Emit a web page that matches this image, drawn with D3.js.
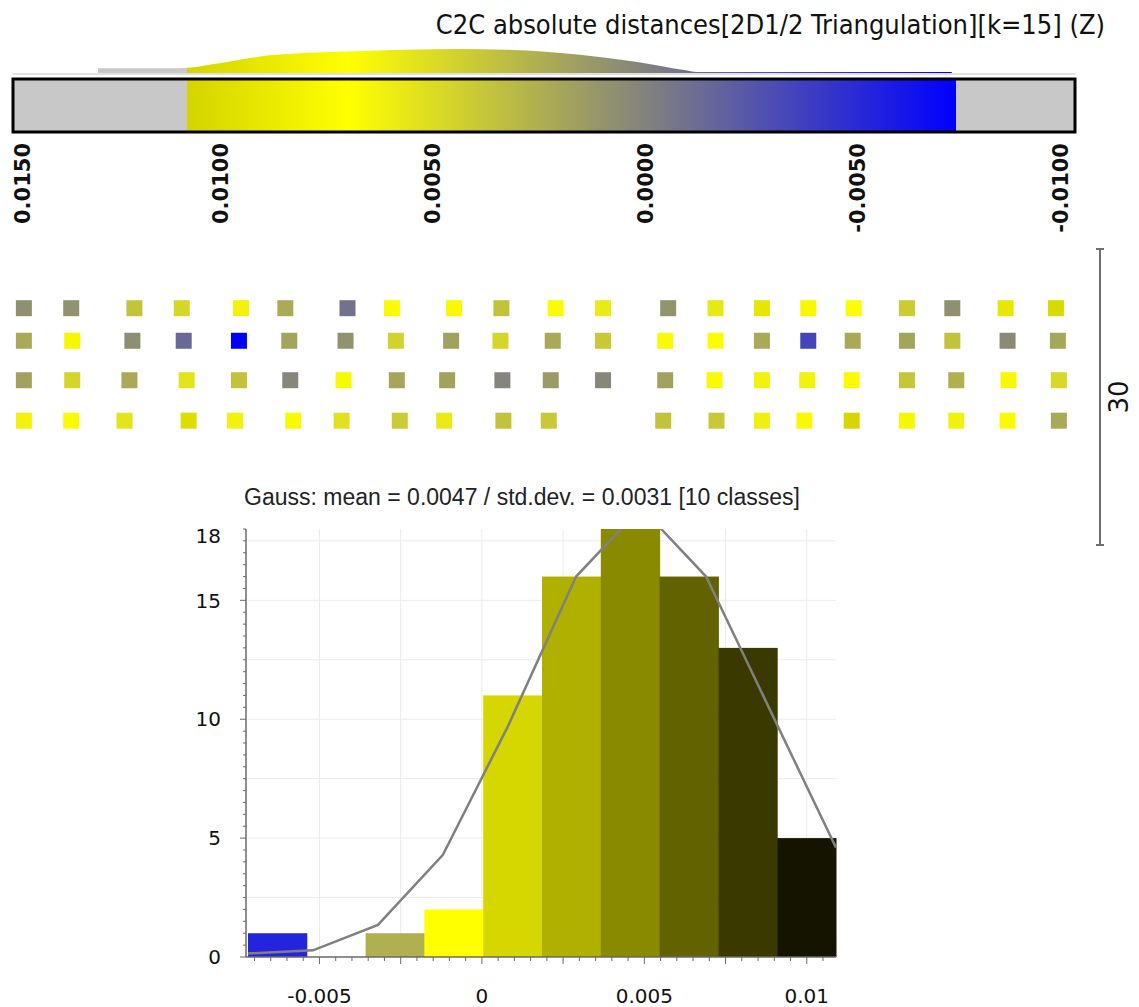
<!DOCTYPE html>
<html>
<head>
<meta charset="utf-8">
<script src="https://cdn.jsdelivr.net/npm/d3@7"></script>
<style>
  body { margin: 0; background: #fff; }
  svg { display: block; }
</style>
</head>
<body>
<script>
// ---- scalar field (C2C distances) ----
var titleText = "C2C absolute distances[2D1/2 Triangulation][k=15] (Z)";
var vMin = -0.0072, vMax = 0.0109;
var colorStopValues = [-0.0072, 0.0, 0.0071, 0.0109];
var colorStopColors = ["#0000ff", "#808080", "#ffff00", "#d4d400"];
var outOfRangeGray = "#c8c8c8";
var barTicks = [0.015, 0.01, 0.005, 0, -0.005, -0.01];
var barTickLabels = ["0.0150", "0.0100", "0.0050", "0.0000", "-0.0050", "-0.0100"];

// density profile shown above the colour bar (distance, relative height)
var densityValues  = [0.0130, 0.0111, 0.0100, 0.0089, 0.0071, 0.0045, 0.0034, 0.0016, 0.0003, -0.0008, -0.0011, -0.0071];
var densityHeights = [0.20,   0.20,   0.45,   0.75,   0.90,   1.00,   0.97,   0.75,   0.46,   0.12,    0.04,    0.04];

// ---- point cloud, seen from above (model units) ----
var rowY = [24.0, 20.7, 16.7, 12.6];
var rowX = [
  [1.0, 5.8, 12.2, 17.0, 23.0, 27.5, 33.8, 38.3, 44.6, 49.4, 54.9, 59.7, 66.3, 71.1, 75.8, 80.5, 85.1, 90.5, 95.1, 100.5, 105.6],
  [1.0, 5.9, 12.0, 17.2, 22.8, 27.9, 33.6, 38.7, 44.3, 49.3, 54.6, 59.7, 66.0, 71.1, 75.8, 80.5, 85.0, 90.5, 95.1, 100.7, 105.8],
  [1.0, 5.9, 11.7, 17.5, 22.8, 28.0, 33.4, 38.8, 43.9, 49.5, 54.4, 59.7, 66.0, 71.0, 75.8, 80.4, 84.9, 90.5, 95.5, 100.8, 105.9],
  [1.0, 5.8, 11.2, 17.7, 22.4, 28.3, 33.2, 39.1, 43.6, 49.6, 54.2, 65.8, 71.2, 75.8, 80.1, 84.9, 90.5, 95.5, 100.7, 105.9]
];
var rowDist = [
  [0.0009, 0.0010, 0.0038, 0.0048, 0.0064, 0.0024, -0.0008, 0.0075, 0.0076, 0.0037, 0.0074, 0.0059, 0.0011, 0.0058, 0.0093, 0.0077, 0.0073, 0.0042, 0.0009, 0.0092, 0.0104],
  [0.0023, 0.0078, 0.0008, -0.0013, -0.0072, 0.0020, 0.0010, 0.0046, 0.0019, 0.0048, 0.0023, 0.0041, 0.0068, 0.0070, 0.0023, -0.0033, 0.0023, 0.0020, 0.0037, 0.0006, 0.0022],
  [0.0019, 0.0047, 0.0023, 0.0056, 0.0037, 0.0004, 0.0076, 0.0021, 0.0019, 0.0003, 0.0015, 0.0004, 0.0019, 0.0068, 0.0064, 0.0064, 0.0075, 0.0039, 0.0027, 0.0077, 0.0049],
  [0.0064, 0.0068, 0.0056, 0.0101, 0.0064, 0.0076, 0.0054, 0.0042, 0.0059, 0.0037, 0.0040, 0.0037, 0.0040, 0.0062, 0.0076, 0.0106, 0.0078, 0.0063, 0.0075, 0.0023]
];
var scaleBarLength = 30;

// ---- histogram ----
var histTitle = "Gauss: mean = 0.0047 / std.dev. = 0.0031 [10 classes]";
var nClasses = 10;
var classColors = ["#2424dc", "#5a5ab0", "#b0b050", "#ffff00", "#d6d600", "#b0b000", "#8a8a00", "#626200", "#3a3a00", "#141400"];
var gaussValues = [-0.0072, -0.0052, -0.0032, -0.0012, 0.0008, 0.0029, 0.0049, 0.0069, 0.0109];
var gaussCounts = [0.15, 0.28, 1.35, 4.3, 9.7, 16.0, 18.9, 16.0, 4.6];
var histXTicks = [-0.005, 0, 0.005, 0.01];
var histXTickLabels = ["-0.005", "0", "0.005", "0.01"];
var histYTicks = [0, 5, 10, 15, 18];

var W = 1139, H = 1007;
var svg = d3.select("body").append("svg")
    .attr("width", W)
    .attr("height", H);
var defs = svg.append("defs");

var color = d3.scaleLinear()
    .domain(colorStopValues)
    .range(colorStopColors)
    .clamp(true);

// title (condensed face)
svg.append("text")
    .attr("x", 1105)
    .attr("y", 34)
    .attr("text-anchor", "end")
    .style("font-family", "'DejaVu Sans Condensed', 'DejaVu Sans', sans-serif")
    .style("font-stretch", "condensed")
    .style("font-size", "27px")
    .style("fill", "#111")
    .text(titleText);

// ---------- colour scale bar ----------
var barX = d3.scaleLinear().domain([0.015, -0.01]).range([13, 1075]);
function off(v) { return (barX(v) - 13) / (1075 - 13); }

var grad = defs.append("linearGradient")
    .attr("id", "scaleGrad")
    .attr("gradientUnits", "userSpaceOnUse")
    .attr("x1", 13).attr("x2", 1075)
    .attr("y1", 0).attr("y2", 0);
grad.append("stop").attr("offset", 0).attr("stop-color", outOfRangeGray);
grad.append("stop").attr("offset", off(vMax)).attr("stop-color", outOfRangeGray);
colorStopValues.slice().reverse().forEach(function (v) {
    grad.append("stop").attr("offset", off(v)).attr("stop-color", color(v));
});
grad.append("stop").attr("offset", off(vMin)).attr("stop-color", outOfRangeGray);
grad.append("stop").attr("offset", 1).attr("stop-color", outOfRangeGray);

// density profile
var yDens = d3.scaleLinear().domain([0, 1]).range([73, 49]);
var densArea = d3.area()
    .x(function (d) { return barX(d[0]); })
    .y0(73)
    .y1(function (d) { return yDens(d[1]); })
    .curve(d3.curveMonotoneX);
svg.append("path")
    .datum(d3.zip(densityValues, densityHeights))
    .attr("d", densArea)
    .attr("fill", "url(#scaleGrad)");
svg.append("line")
    .attr("x1", 13).attr("x2", 1075)
    .attr("y1", 74).attr("y2", 74)
    .attr("stroke", "#d6d6d6")
    .attr("stroke-width", 1.5);

svg.append("rect")
    .attr("x", 13).attr("y", 79)
    .attr("width", 1062).attr("height", 53)
    .attr("fill", "url(#scaleGrad)")
    .attr("stroke", "#000")
    .attr("stroke-width", 3);

// rotated tick labels (kept inside the bar ends)
svg.selectAll(".barTick")
    .data(barTicks)
    .enter().append("text")
    .attr("class", "barTick")
    .attr("transform", function (d) {
        var x = Math.max(22, Math.min(1060, barX(d) - 5));
        return "translate(" + x + ",143) rotate(-90)";
    })
    .attr("dy", "0.36em")
    .attr("text-anchor", "end")
    .style("font-family", "'DejaVu Sans', sans-serif")
    .style("font-size", "21px")
    .style("font-weight", "bold")
    .style("fill", "#111")
    .text(function (d, i) { return barTickLabels[i]; });

// ---------- point cloud ----------
var ptX = d3.scaleLinear().domain([0, 30]).range([14, 310]);
var ptY = d3.scaleLinear().domain([0, 30]).range([545, 249]);
var points = [];
rowX.forEach(function (xs, r) {
    xs.forEach(function (x, i) {
        points.push({ x: x, y: rowY[r], v: rowDist[r][i] });
    });
});
var sq = 16;
svg.append("g").selectAll("rect")
    .data(points)
    .enter().append("rect")
    .attr("x", function (d) { return ptX(d.x) - sq / 2; })
    .attr("y", function (d) { return ptY(d.y) - sq / 2; })
    .attr("width", sq)
    .attr("height", sq)
    .attr("fill", function (d) { return color(d.v); });

// scale bar
var sb = svg.append("g").attr("stroke", "#6e6e6e").attr("stroke-width", 2);
sb.append("line")
    .attr("x1", 1100).attr("x2", 1100)
    .attr("y1", ptY(0)).attr("y2", ptY(scaleBarLength));
[0, scaleBarLength].forEach(function (v) {
    sb.append("line")
        .attr("x1", 1096).attr("x2", 1104)
        .attr("y1", ptY(v)).attr("y2", ptY(v));
});
svg.append("text")
    .attr("transform", "translate(1119," + ptY(scaleBarLength / 2) + ") rotate(-90)")
    .attr("dy", "0.36em")
    .attr("text-anchor", "middle")
    .style("font-family", "'DejaVu Sans', sans-serif")
    .style("font-size", "26px")
    .style("fill", "#111")
    .text(String(scaleBarLength));

// ---------- histogram ----------
var xH = d3.scaleLinear().domain([vMin, vMax]).range([248, 836]);
var yH = d3.scaleLinear().domain([0, 18]).range([957, 529]);
var step = (vMax - vMin) / nClasses;
var bins = d3.bin()
    .domain([vMin, vMax])
    .thresholds(d3.range(1, nClasses).map(function (i) { return vMin + i * step; }))(points.map(function (p) { return p.v; }));

svg.append("text")
    .attr("x", 522)
    .attr("y", 505)
    .attr("text-anchor", "middle")
    .style("font-family", "'Liberation Sans', Arial, sans-serif")
    .style("font-size", "23px")
    .style("fill", "#222")
    .text(histTitle);

var grid = svg.append("g").attr("stroke", "#ebebeb").attr("stroke-width", 1);
d3.range(-2, 5).map(function (i) { return i * 0.0025; }).forEach(function (v) {
    grid.append("line")
        .attr("x1", xH(v)).attr("x2", xH(v))
        .attr("y1", yH(18)).attr("y2", yH(0));
});
d3.range(1, 8).map(function (i) { return i * 2.5; }).forEach(function (c) {
    grid.append("line")
        .attr("x1", xH(vMin)).attr("x2", xH(vMax))
        .attr("y1", yH(c)).attr("y2", yH(c));
});

svg.append("g").selectAll("rect")
    .data(bins)
    .enter().append("rect")
    .attr("x", function (d) { return xH(d.x0); })
    .attr("width", function (d) { return xH(d.x1) - xH(d.x0) + 0.5; })
    .attr("y", function (d) { return yH(d.length); })
    .attr("height", function (d) { return yH(0) - yH(d.length); })
    .attr("fill", function (d, i) { return classColors[i]; });

defs.append("clipPath").attr("id", "plotClip")
    .append("rect")
    .attr("x", xH(vMin)).attr("y", yH(18))
    .attr("width", xH(vMax) - xH(vMin)).attr("height", yH(0) - yH(18));
svg.append("path")
    .datum(d3.zip(gaussValues, gaussCounts))
    .attr("clip-path", "url(#plotClip)")
    .attr("d", d3.line()
        .x(function (d) { return xH(d[0]); })
        .y(function (d) { return yH(d[1]); }))
    .attr("fill", "none")
    .attr("stroke", "#808080")
    .attr("stroke-width", 2.5);

// axes
var ax = svg.append("g").attr("stroke", "#6a6a6a");
ax.append("line")
    .attr("x1", xH(vMin) - 2).attr("x2", xH(vMax))
    .attr("y1", yH(0)).attr("y2", yH(0))
    .attr("stroke-width", 1.5);
ax.append("line")
    .attr("x1", xH(vMin) - 2).attr("x2", xH(vMin) - 2)
    .attr("y1", yH(0)).attr("y2", yH(18))
    .attr("stroke-width", 1.5);
d3.range(-14, 22).map(function (i) { return i * 0.0005; })
    .filter(function (v) { return v >= vMin && v <= vMax; })
    .forEach(function (v) {
        var major = Math.abs(v / 0.0025 - Math.round(v / 0.0025)) < 1e-6;
        ax.append("line")
            .attr("x1", xH(v)).attr("x2", xH(v))
            .attr("y1", yH(0)).attr("y2", yH(0) + (major ? 7 : 4))
            .attr("stroke-width", 1);
    });
d3.range(0, 37).map(function (i) { return i * 0.5; }).forEach(function (c) {
    var major = c % 5 === 0;
    ax.append("line")
        .attr("x1", xH(vMin) - 2 - (major ? 6 : 3)).attr("x2", xH(vMin) - 2)
        .attr("y1", yH(c)).attr("y2", yH(c))
        .attr("stroke-width", 1);
});

svg.selectAll(".xlab")
    .data(histXTicks)
    .enter().append("text")
    .attr("class", "xlab")
    .attr("x", function (d) { return xH(d); })
    .attr("y", 1003)
    .attr("text-anchor", "middle")
    .style("font-family", "'DejaVu Sans', sans-serif")
    .style("font-size", "20px")
    .style("fill", "#111")
    .text(function (d, i) { return histXTickLabels[i]; });

svg.selectAll(".ylab")
    .data(histYTicks)
    .enter().append("text")
    .attr("class", "ylab")
    .attr("x", 221)
    .attr("y", function (d) { return Math.max(536, yH(d)); })
    .attr("dy", "0.36em")
    .attr("text-anchor", "end")
    .style("font-family", "'DejaVu Sans', sans-serif")
    .style("font-size", "20px")
    .style("fill", "#111")
    .text(function (d) { return d; });
</script>
</body>
</html>
